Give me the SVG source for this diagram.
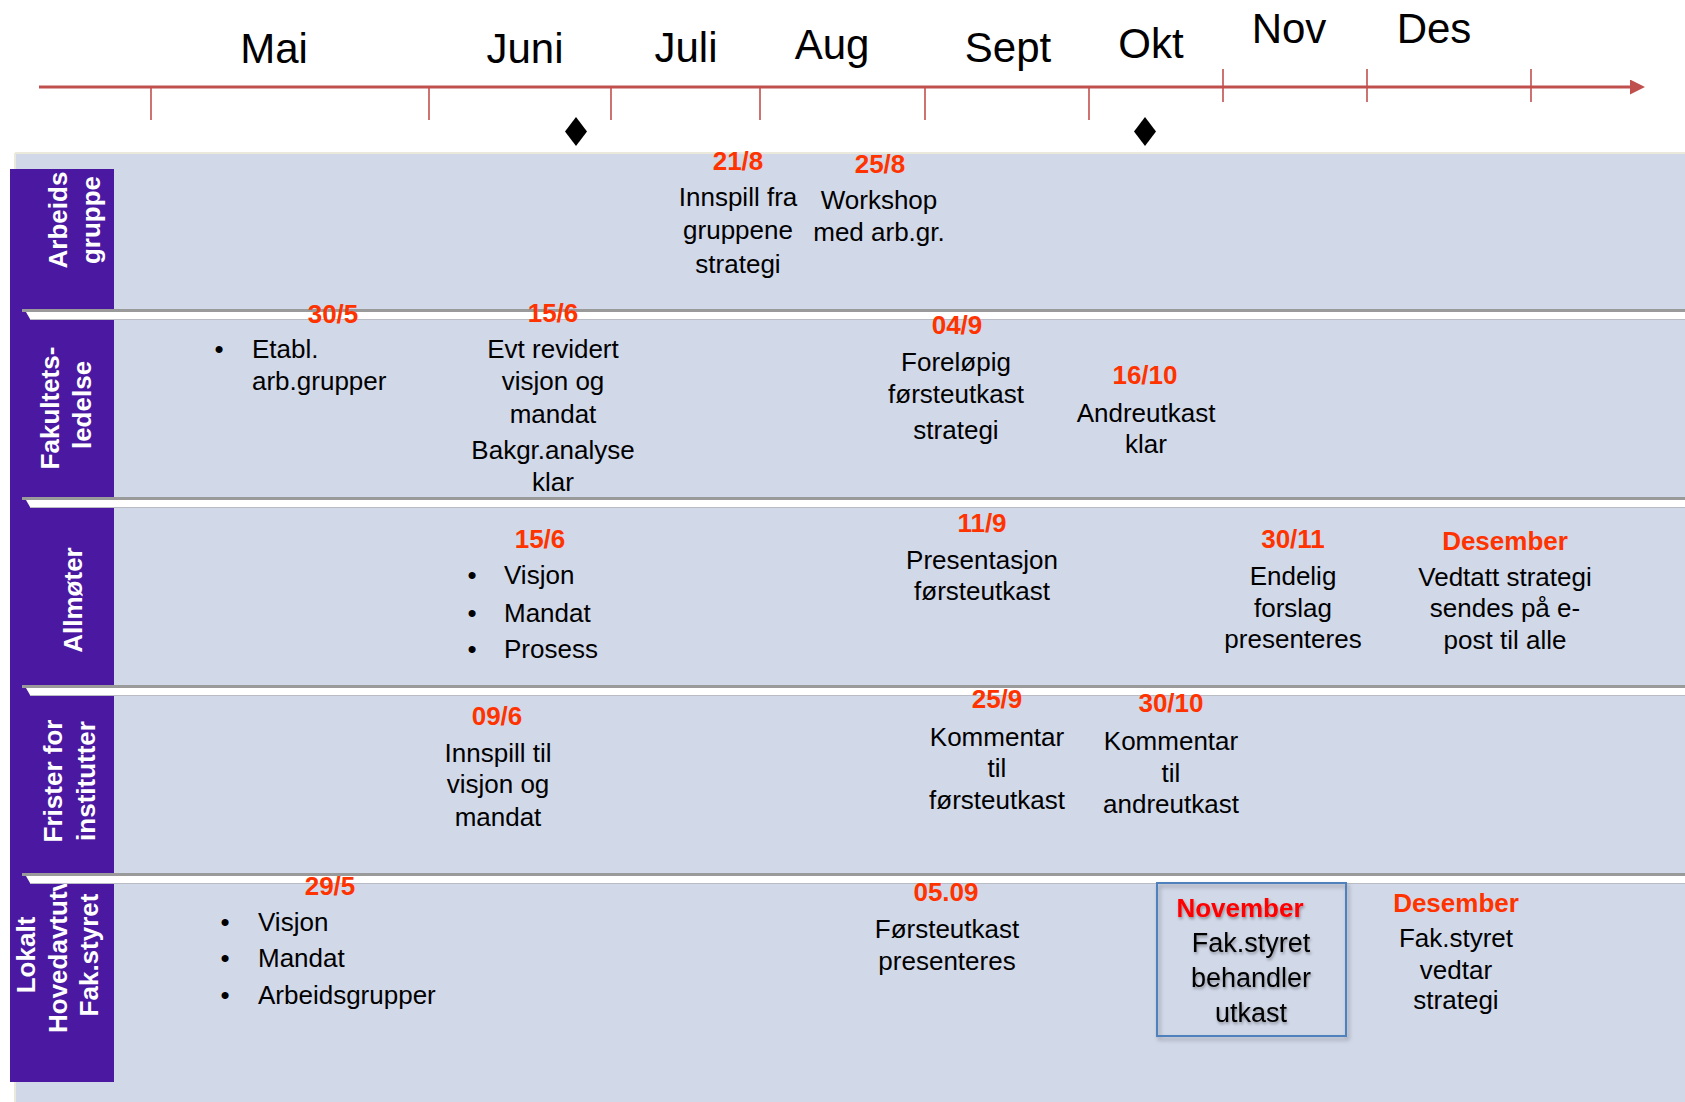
<svg xmlns="http://www.w3.org/2000/svg" width="1685" height="1102" viewBox="0 0 1685 1102">
<style>
.month{font-family:"Liberation Sans",Arial,sans-serif;font-size:42px;fill:#000;text-anchor:middle}
.date{font-family:"Liberation Sans",Arial,sans-serif;font-size:26px;font-weight:bold;fill:#ff3300;text-anchor:middle}
.body{font-family:"Liberation Sans",Arial,sans-serif;font-size:26px;fill:#000;text-anchor:middle}
.left{text-anchor:start}
.lane{font-family:"Liberation Sans",Arial,sans-serif;font-size:26px;font-weight:bold;fill:#fff;text-anchor:middle}
.tick{stroke:#c0504d;stroke-width:1.6}
.dia{fill:#000}
.boxtxt{font-family:"Liberation Sans",Arial,sans-serif;font-size:27px;fill:#000;text-anchor:middle;filter:url(#tshadow)}
</style>
<defs>
<marker id="arrow" markerUnits="userSpaceOnUse" markerWidth="16" markerHeight="16" refX="2" refY="7.5" orient="auto">
<path d="M0,0 L15,7.5 L0,15 Z" fill="#c0504d"/>
</marker>
<filter id="shadow" x="-10%" y="-10%" width="130%" height="130%">
<feDropShadow dx="2" dy="3" stdDeviation="2" flood-color="#000" flood-opacity="0.3"/>
</filter>
<filter id="tshadow" x="-10%" y="-20%" width="130%" height="160%">
<feDropShadow dx="1" dy="2" stdDeviation="1.5" flood-color="#000" flood-opacity="0.35"/>
</filter>
<g id="sep">
<rect x="22" y="0" width="1663" height="3" fill="#9a9a9a"/>
<polygon points="26,3 1685,3 1685,10 30,10" fill="#ffffff"/>
<rect x="30" y="10" width="1655" height="1" fill="#b9bcc4"/>
</g>
</defs>

<rect width="1685" height="1102" fill="#ffffff"/>

<!-- month labels and ticks -->
<g id="months">
<text class="month" x="274" y="63">Mai</text>
<text class="month" x="525" y="63">Juni</text>
<text class="month" x="686" y="62">Juli</text>
<text class="month" x="832" y="59">Aug</text>
<text class="month" x="1008" y="62">Sept</text>
<text class="month" x="1151" y="58">Okt</text>
<text class="month" x="1289" y="43">Nov</text>
<text class="month" x="1434" y="43">Des</text>
</g>

<g id="connectors">
<line x1="39" y1="87" x2="1632" y2="87" stroke="#c0504d" stroke-width="3" marker-end="url(#arrow)"/>
<line class="tick" x1="151" y1="87" x2="151" y2="120"/>
<line class="tick" x1="429" y1="87" x2="429" y2="120"/>
<line class="tick" x1="611" y1="87" x2="611" y2="120"/>
<line class="tick" x1="760" y1="87" x2="760" y2="120"/>
<line class="tick" x1="925" y1="87" x2="925" y2="120"/>
<line class="tick" x1="1089" y1="87" x2="1089" y2="120"/>
<line class="tick" x1="1223" y1="69" x2="1223" y2="102"/>
<line class="tick" x1="1367" y1="69" x2="1367" y2="102"/>
<line class="tick" x1="1531" y1="69" x2="1531" y2="102"/>
</g>

<g id="milestones">
<polygon class="dia" points="576,117 587,131.5 576,146 565,131.5"/>
<polygon class="dia" points="1145,117 1156,131.5 1145,146 1134,131.5"/>
</g>

<!-- swimlane background -->
<g id="lanes-bg">
<rect x="15" y="153" width="1670" height="949" fill="#d1d8e8"/>
<line x1="15" y1="153" x2="1685" y2="153" stroke="#ebe8dc" stroke-width="2"/>
<line x1="15" y1="153" x2="15" y2="1102" stroke="#ebe8dc" stroke-width="2"/>
<rect x="10" y="169" width="104" height="913" fill="#4b18a1"/>
</g>

<!-- lane headers -->
<g id="lane-arbeidsgruppe">
<text class="lane" transform="translate(67,220) rotate(-90)">Arbeids</text>
<text class="lane" transform="translate(100,220) rotate(-90)">gruppe</text>
</g>
<g id="lane-fakultetsledelse">
<text class="lane" transform="translate(59,408) rotate(-90)">Fakultets-</text>
<text class="lane" transform="translate(91,405) rotate(-90)">ledelse</text>
</g>
<g id="lane-allmoter">
<text class="lane" transform="translate(82,600) rotate(-90)">Allmøter</text>
</g>
<g id="lane-frister">
<text class="lane" transform="translate(62,781) rotate(-90)">Frister for</text>
<text class="lane" transform="translate(95,781) rotate(-90)">institutter</text>
</g>
<g id="lane-lokalt">
<text class="lane" transform="translate(35,955) rotate(-90)">Lokalt</text>
<text class="lane" transform="translate(67,955) rotate(-90)">Hovedavtutv</text>
<text class="lane" transform="translate(98,955) rotate(-90)">Fak.styret</text>
</g>

<!-- separators -->
<g id="separators">
<use href="#sep" y="309"/>
<use href="#sep" y="497"/>
<use href="#sep" y="685"/>
<use href="#sep" y="873"/>
</g>

<!-- lane 1 events -->
<g id="ev-21-8">
<text class="date" x="738" y="170">21/8</text>
<text class="body" x="738" y="206">Innspill fra</text>
<text class="body" x="738" y="239">gruppene</text>
<text class="body" x="738" y="273">strategi</text>
</g>
<g id="ev-25-8">
<text class="date" x="880" y="173">25/8</text>
<text class="body" x="879" y="209">Workshop</text>
<text class="body" x="879" y="241">med arb.gr.</text>
</g>

<!-- lane 2 events -->
<g id="ev-30-5">
<text class="date" x="333" y="323">30/5</text>
<text class="body" x="219" y="358">•</text>
<text class="body left" x="252" y="358">Etabl.</text>
<text class="body left" x="252" y="390">arb.grupper</text>
</g>
<g id="ev-15-6-a">
<text class="date" x="553" y="322">15/6</text>
<text class="body" x="553" y="358">Evt revidert</text>
<text class="body" x="553" y="390">visjon og</text>
<text class="body" x="553" y="423">mandat</text>
<text class="body" x="553" y="459">Bakgr.analyse</text>
<text class="body" x="553" y="491">klar</text>
</g>
<g id="ev-04-9">
<text class="date" x="957" y="334">04/9</text>
<text class="body" x="956" y="371">Foreløpig</text>
<text class="body" x="956" y="403">førsteutkast</text>
<text class="body" x="956" y="439">strategi</text>
</g>
<g id="ev-16-10">
<text class="date" x="1145" y="384">16/10</text>
<text class="body" x="1146" y="422">Andreutkast</text>
<text class="body" x="1146" y="453">klar</text>
</g>

<!-- lane 3 events -->
<g id="ev-15-6-b">
<text class="date" x="540" y="548">15/6</text>
<text class="body" x="472" y="584">•</text>
<text class="body left" x="504" y="584">Visjon</text>
<text class="body" x="472" y="622">•</text>
<text class="body left" x="504" y="622">Mandat</text>
<text class="body" x="472" y="658">•</text>
<text class="body left" x="504" y="658">Prosess</text>
</g>
<g id="ev-11-9">
<text class="date" x="982" y="532">11/9</text>
<text class="body" x="982" y="569">Presentasjon</text>
<text class="body" x="982" y="600">førsteutkast</text>
</g>
<g id="ev-30-11">
<text class="date" x="1293" y="548">30/11</text>
<text class="body" x="1293" y="585">Endelig</text>
<text class="body" x="1293" y="617">forslag</text>
<text class="body" x="1293" y="648">presenteres</text>
</g>
<g id="ev-des-a">
<text class="date" x="1505" y="550">Desember</text>
<text class="body" x="1505" y="586">Vedtatt strategi</text>
<text class="body" x="1505" y="617">sendes på e-</text>
<text class="body" x="1505" y="649">post til alle</text>
</g>

<!-- lane 4 events -->
<g id="ev-09-6">
<text class="date" x="497" y="725">09/6</text>
<text class="body" x="498" y="762">Innspill til</text>
<text class="body" x="498" y="793">visjon og</text>
<text class="body" x="498" y="826">mandat</text>
</g>
<g id="ev-25-9">
<text class="date" x="997" y="708">25/9</text>
<text class="body" x="997" y="746">Kommentar</text>
<text class="body" x="997" y="777">til</text>
<text class="body" x="997" y="809">førsteutkast</text>
</g>
<g id="ev-30-10">
<text class="date" x="1171" y="712">30/10</text>
<text class="body" x="1171" y="750">Kommentar</text>
<text class="body" x="1171" y="782">til</text>
<text class="body" x="1171" y="813">andreutkast</text>
</g>

<!-- lane 5 events -->
<g id="ev-29-5">
<text class="date" x="330" y="895">29/5</text>
<text class="body" x="225" y="931">•</text>
<text class="body left" x="258" y="931">Visjon</text>
<text class="body" x="225" y="967">•</text>
<text class="body left" x="258" y="967">Mandat</text>
<text class="body" x="225" y="1004">•</text>
<text class="body left" x="258" y="1004">Arbeidsgrupper</text>
</g>
<g id="ev-05-09">
<text class="date" x="946" y="901">05.09</text>
<text class="body" x="947" y="938">Førsteutkast</text>
<text class="body" x="947" y="970">presenteres</text>
</g>
<g id="ev-november">
<rect x="1157" y="883" width="189" height="153" fill="none" stroke="#4f81bd" stroke-width="2" filter="url(#shadow)"/>
<text class="date" x="1240" y="917" style="fill:#ff0000;filter:url(#tshadow)">November</text>
<text class="boxtxt" x="1251" y="952">Fak.styret</text>
<text class="boxtxt" x="1251" y="987">behandler</text>
<text class="boxtxt" x="1251" y="1022">utkast</text>
</g>
<g id="ev-des-b">
<text class="date" x="1456" y="912">Desember</text>
<text class="body" x="1456" y="947">Fak.styret</text>
<text class="body" x="1456" y="979">vedtar</text>
<text class="body" x="1456" y="1009">strategi</text>
</g>
</svg>
